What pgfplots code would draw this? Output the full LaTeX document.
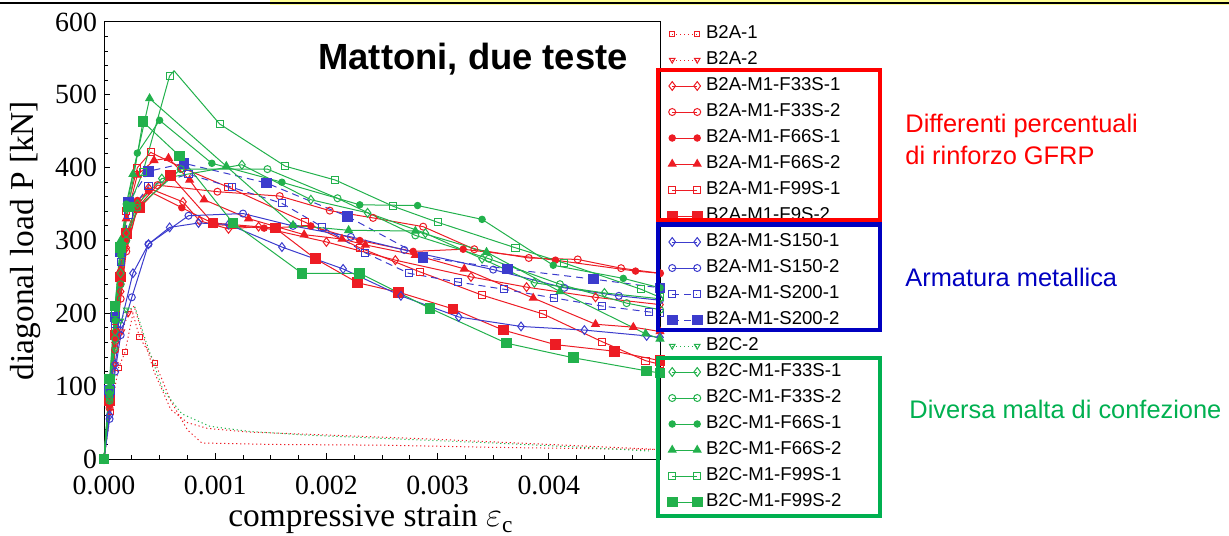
\documentclass[border=0pt]{standalone}
\usepackage{fontspec}
\setmainfont{Liberation Serif}
\newfontfamily\arial{Liberation Sans}
\usepackage{pgfplots}
\pgfplotsset{compat=1.18}
\usetikzlibrary{calc}
\definecolor{redc}{RGB}{237,28,36}
\definecolor{bluec}{RGB}{60,60,205}
\definecolor{greenc}{RGB}{34,177,76}
\definecolor{boxred}{RGB}{255,0,0}
\definecolor{boxblue}{RGB}{0,0,192}
\definecolor{boxgreen}{RGB}{0,176,80}
\definecolor{slideyellow}{RGB}{255,255,150}
\pgfplotsset{
  ser/.style={line width=0.5pt, mark options={solid}},
  dotl/.style={dash pattern=on 0.6pt off 1.4pt},
  dashl/.style={dash pattern=on 3.5pt off 2.5pt},
}
\begin{document}
\begin{tikzpicture}
\begin{axis}[
  at={(0,0)}, anchor=south west,
  scale only axis, width=278pt, height=218.5pt,
  xmin=0, xmax=0.005, ymin=0, ymax=600,
  clip=false,
  axis line style={line width=0.5pt, black},
  xtick={0,0.001,0.002,0.003,0.004},
  minor xtick={0.00025,0.0005,0.00075,0.00125,0.0015,0.00175,0.00225,0.0025,0.00275,0.00325,0.0035,0.00375,0.00425,0.0045,0.00475},
  ytick={0,100,200,300,400,500,600},
  minor y tick num=4,
  tick align=inside, xtick pos=bottom, ytick pos=left,
  major tick length=3pt, minor tick length=2pt,
  tick style={black, line width=0.5pt},
  scaled x ticks=false,
  /pgf/number format/assume math mode=true,
  tick label style={font=\fontsize{13.9}{15}\selectfont},
  xticklabel style={/pgf/number format/.cd, fixed, fixed zerofill, precision=3, /tikz/.cd, yshift=-5pt},
  yticklabel style={/pgf/number format/.cd, fixed, precision=0},
  xlabel={compressive strain $\varepsilon_{\mathrm{c}}$},
  ylabel={diagonal load P [kN]},
  label style={font=\fontsize{16.7}{18}\selectfont},
  xlabel style={at={(axis description cs:0.48,-0.1556)}, anchor=base},
  ylabel style={at={(axis description cs:-0.1403,0.5)}, anchor=center},
  legend style={at={(1.0126,0.9931)}, anchor=north west, draw=none, fill=none,
    inner sep=0pt, font=\arial\fontsize{9.3}{10}\selectfont,
    nodes={inner sep=0pt, text height=6.6pt, text depth=2pt},
    column sep=2pt, row sep=4.4pt},
  legend cell align=left,
  legend image code/.code={\draw[#1, mark indices={1,2}] plot coordinates {(0pt,0pt) (12.5pt,0pt)};},
]
% B2A-1
\addplot[ser, redc, dotl, mark=square, mark size=1.3pt, mark indices={2,3,4,6,7}] coordinates {
(0,0) (0.00006,65) (0.00013,125) (0.00019,147) (0.00026,200) (0.00032,167) (0.00046,132) (0.0006,80) (0.00075,40) (0.00088,22) (0.0015,20) (0.0025,19) (0.0035,16) (0.0045,14) (0.005,13)};
\addlegendentry{B2A-1}
% B2A-2
\addplot[ser, redc, dotl, mark=triangle, mark size=1.6pt, mark options={solid, rotate=180}, mark indices={2,3,4,5}] coordinates {
(0,0) (0.00005,70) (0.0001,130) (0.00016,175) (0.00022,200) (0.00027,210) (0.00035,170) (0.00045,120) (0.0006,68) (0.00075,50) (0.00093,42) (0.0013,37) (0.002,33) (0.003,27) (0.004,20) (0.005,13)};
\addlegendentry{B2A-2}
% B2A-M1-F33S-1
\addplot[ser, redc, mark=diamond, mark size=2.2pt] coordinates {
(0,0) (0.00005,75) (0.0001,160) (0.00015,230) (0.0002,290) (0.0003,345) (0.0004,372) (0.00071,353) (0.00086,327) (0.00112,316) (0.00139,319) (0.002,298) (0.00262,273) (0.0033,250) (0.0038,236) (0.00442,222) (0.005,212)};
\addlegendentry{B2A-M1-F33S-1}
% B2A-M1-F33S-2
\addplot[ser, redc, mark=o, mark size=1.75pt] coordinates {
(0,0) (0.00005,70) (0.0001,150) (0.00015,220) (0.0002,285) (0.0003,345) (0.00048,376) (0.00102,367) (0.00158,361) (0.00203,341) (0.00242,331) (0.00287,319) (0.00333,288) (0.00382,276) (0.00426,274) (0.00465,262) (0.005,255)};
\addlegendentry{B2A-M1-F33S-2}
% B2A-M1-F66S-1
\addplot[ser, redc, mark=*, mark size=1.6pt] coordinates {
(0,0) (0.00005,80) (0.0001,165) (0.00015,240) (0.0002,300) (0.0003,355) (0.0004,368) (0.0007,345) (0.001,322) (0.00144,317) (0.00186,320) (0.0023,300) (0.00278,285) (0.00323,288) (0.00406,273) (0.00478,258) (0.005,255)};
\addlegendentry{B2A-M1-F66S-1}
% B2A-M1-F66S-2
\addplot[ser, redc, mark=triangle*, mark size=2.2pt] coordinates {
(0,0) (0.00005,85) (0.0001,175) (0.00015,260) (0.0002,330) (0.0003,390) (0.00045,410) (0.00058,413) (0.00077,383) (0.0009,356) (0.0013,330) (0.0018,308) (0.00214,302) (0.00235,294) (0.0028,280) (0.00324,261) (0.00386,221) (0.00442,185) (0.00476,181) (0.005,175)};
\addlegendentry{B2A-M1-F66S-2}
% B2A-M1-F99S-1
\addplot[ser, redc, mark=square, mark size=1.8pt] coordinates {
(0,0) (0.00005,90) (0.0001,180) (0.00015,270) (0.0002,340) (0.0003,400) (0.00042,421) (0.0007,400) (0.00112,373) (0.00181,325) (0.0023,290) (0.00284,257) (0.0034,225) (0.00395,199) (0.00448,161) (0.00487,135) (0.005,130)};
\addlegendentry{B2A-M1-F99S-1}
% B2A-M1-F9S-2
\addplot[ser, redc, mark=square*, mark size=2.4pt] coordinates {
(0,0) (0.00005,80) (0.0001,170) (0.00015,250) (0.0002,310) (0.00032,345) (0.0006,389) (0.00098,324) (0.00154,317) (0.0019,275) (0.00228,242) (0.00265,229) (0.00314,206) (0.00359,177) (0.00406,157) (0.00459,148) (0.005,135)};
\addlegendentry{B2A-M1-F9S-2}
% B2A-M1-S150-1
\addplot[ser, bluec, mark=diamond, mark size=2.2pt] coordinates {
(0,0) (0.00005,60) (0.0001,130) (0.00015,185) (0.00026,255) (0.0004,295) (0.00059,318) (0.00085,324) (0.00112,322) (0.0016,291) (0.00215,261) (0.00267,224) (0.00319,195) (0.00375,182) (0.00432,177) (0.00488,169) (0.005,167)};
\addlegendentry{B2A-M1-S150-1}
% B2A-M1-S150-2
\addplot[ser, bluec, mark=o, mark size=1.75pt] coordinates {
(0,0) (0.00005,55) (0.0001,120) (0.00015,170) (0.00025,222) (0.0004,295) (0.00076,334) (0.00125,337) (0.0017,320) (0.00222,305) (0.0027,287) (0.0035,260) (0.00414,235) (0.00463,224) (0.005,218)};
\addlegendentry{B2A-M1-S150-2}
% B2A-M1-S200-1
\addplot[ser, bluec, dashl, mark=square, mark size=1.8pt] coordinates {
(0,0) (0.00005,90) (0.0001,185) (0.00015,270) (0.00022,335) (0.0004,375) (0.00076,391) (0.00115,373) (0.0016,351) (0.00196,319) (0.00235,283) (0.00274,255) (0.00318,243) (0.0036,233) (0.00405,221) (0.00448,210) (0.0049,202) (0.005,200)};
\addlegendentry{B2A-M1-S200-1}
% B2A-M1-S200-2
\addplot[ser, bluec, dashl, mark=square*, mark size=2.4pt] coordinates {
(0,0) (0.00005,95) (0.0001,195) (0.00015,285) (0.00022,353) (0.0004,395) (0.00072,406) (0.00146,379) (0.00219,333) (0.00287,277) (0.00363,261) (0.0044,247) (0.005,235)};
\addlegendentry{B2A-M1-S200-2}
% B2C-2
\addplot[ser, greenc, dotl, mark=triangle, mark size=1.6pt, mark options={solid, rotate=180}, mark indices={2,3,4,5}] coordinates {
(0,0) (0.00005,80) (0.0001,150) (0.00015,190) (0.0002,205) (0.00028,208) (0.00038,160) (0.00053,95) (0.0007,62) (0.00095,45) (0.0013,38) (0.0018,33) (0.0027,27) (0.0035,22) (0.0043,16) (0.0049,11)};
\addlegendentry{B2C-2}
% B2C-M1-F33S-1
\addplot[ser, greenc, mark=diamond, mark size=2.2pt] coordinates {
(0,0) (0.00005,85) (0.0001,175) (0.00015,255) (0.0002,310) (0.0003,350) (0.00052,385) (0.00124,404) (0.00186,356) (0.00237,338) (0.00289,310) (0.0034,275) (0.00387,242) (0.0045,228) (0.005,220)};
\addlegendentry{B2C-M1-F33S-1}
% B2C-M1-F33S-2
\addplot[ser, greenc, mark=o, mark size=1.75pt] coordinates {
(0,0) (0.00005,80) (0.0001,165) (0.00015,240) (0.0002,300) (0.0003,345) (0.00069,398) (0.00147,398) (0.0021,358) (0.0028,307) (0.00346,275) (0.0041,240) (0.0047,214) (0.005,205)};
\addlegendentry{B2C-M1-F33S-2}
% B2C-M1-F66S-1
\addplot[ser, greenc, mark=*, mark size=1.6pt] coordinates {
(0,0) (0.00005,90) (0.0001,190) (0.00015,280) (0.0002,350) (0.0003,420) (0.0005,465) (0.00097,406) (0.0016,380) (0.0023,349) (0.00282,348) (0.0034,329) (0.00404,266) (0.00467,248) (0.005,235)};
\addlegendentry{B2C-M1-F66S-1}
% B2C-M1-F66S-2
\addplot[ser, greenc, mark=triangle*, mark size=2.2pt] coordinates {
(0,0) (0.00005,100) (0.0001,210) (0.00015,300) (0.00026,391) (0.00041,495) (0.0011,402) (0.0017,321) (0.0022,314) (0.0028,313) (0.00344,284) (0.0041,230) (0.00487,172) (0.005,165)};
\addlegendentry{B2C-M1-F66S-2}
% B2C-M1-F99S-1
\addplot[ser, greenc, mark=square, mark size=1.8pt, mark indices={1,2,3,4,5,6,7,9,10,11,12,13,14,15,16,17}] coordinates {
(0,0) (0.00005,95) (0.0001,200) (0.00015,290) (0.00022,345) (0.00035,394) (0.00059,526) (0.00063,533) (0.00104,460) (0.00163,402) (0.00208,383) (0.0026,347) (0.003,325) (0.0037,290) (0.00414,269) (0.00483,233) (0.005,222)};
\addlegendentry{B2C-M1-F99S-1}
% B2C-M1-F99S-2
\addplot[ser, greenc, mark=square*, mark size=2.4pt] coordinates {
(0,0) (0.00005,110) (0.0001,210) (0.00015,290) (0.00022,346) (0.00035,463) (0.00068,416) (0.00116,324) (0.00178,255) (0.0023,255) (0.00293,207) (0.00362,159) (0.00422,139) (0.00488,121) (0.005,118)};
\addlegendentry{B2C-M1-F99S-2}
\end{axis}
\begin{scope}[shift={($(current axis.south west)+(-52pt,229.5pt)$)}, x=0.5pt, y=-0.5pt]
  \fill[slideyellow] (270,0) rectangle (1229,5);
  \draw[line width=1pt] (0,3) -- (1229,3);
  \node[font=\arial\bfseries\fontsize{18.2}{20}\selectfont, anchor=base west, inner sep=0pt] at (318,70) {Mattoni, due teste};
  \draw[boxred, line width=2.4pt] (658,70) rectangle (880,220);
  \draw[boxblue, line width=2.4pt] (658,224.5) rectangle (880,330);
  \draw[boxgreen, line width=2.4pt] (658,358) rectangle (880,516);
  \begin{scope}[every node/.style={font=\arial\fontsize{12.7}{14}\selectfont, anchor=base west, inner sep=0pt}]
    \node[text=boxred] at (905,133) {Differenti percentuali};
    \node[text=boxred] at (905,165) {di rinforzo GFRP};
    \node[text=boxblue] at (905,287) {Armatura metallica};
    \node[text=boxgreen] at (909,418) {Diversa malta di confezione};
  \end{scope}
  \pgfresetboundingbox
  \path[use as bounding box] (0,0) rectangle (1229,535);
\end{scope}
\end{tikzpicture}
\end{document}
